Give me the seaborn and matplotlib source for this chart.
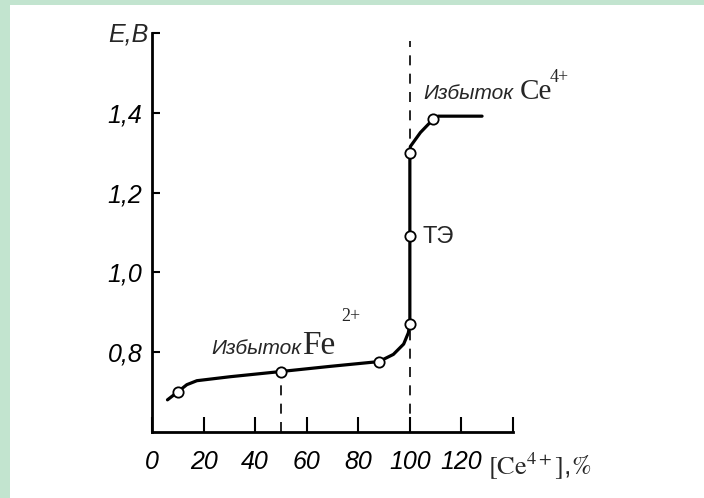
import matplotlib
matplotlib.use("Agg")
import matplotlib.pyplot as plt
from matplotlib.patches import Rectangle
import seaborn as sns
import pandas as pd

# titration curve Fe2+ by Ce4+
curve_x = [6, 10, 13.5, 17.4, 30.3, 48.4, 69.1, 88, 93.6, 97.6, 99.4, 100, 100, 100.2, 104.1, 109, 111, 128]
curve_y = [0.68, 0.70, 0.718, 0.728, 0.738, 0.75, 0.764, 0.776, 0.794, 0.82, 0.848, 0.87, 1.30, 1.316, 1.351, 1.384, 1.392, 1.392]

point_x = [10, 50, 88, 100, 100, 100, 109]
point_y = [0.70, 0.75, 0.776, 0.87, 1.09, 1.30, 1.385]

x_ticks = [0, 20, 40, 60, 80, 100, 120, 140]
x_tick_labels = ["0", "20", "40", "60", "80", "100", "120", ""]
y_ticks = [0.8, 1.0, 1.2, 1.4, 1.6]
y_tick_labels = ["0,8", "1,0", "1,2", "1,4", ""]

half_x, half_y = 50, 0.75
eq_x = 100

sns.set_theme(style="ticks")
plt.rcParams['font.family'] = ['Liberation Sans', 'DejaVu Sans']
plt.rcParams['mathtext.fontset'] = 'stix'

fig = plt.figure(figsize=(7.04, 4.98), dpi=100, facecolor="#c2e4cf")
fig.patches.append(Rectangle((10 / 704, 0), 1, 493 / 498, transform=fig.transFigure,
                             facecolor="white", edgecolor="none", zorder=-5))
ax = fig.add_axes([152 / 704, 66.3 / 498, 361 / 704, 398.4 / 498])
ax.set_facecolor("white")

curve = pd.DataFrame({"x": curve_x, "y": curve_y})
points = pd.DataFrame({"x": point_x, "y": point_y})

# dashed guide lines
ax.plot([half_x, half_x], [0.6, half_y], color="black", lw=1.2, ls=(0, (6, 5)), zorder=1)
ax.plot([eq_x, eq_x], [0.6, 1.58], color="black", lw=1.2, ls=(0, (6, 5)), zorder=1)

sns.lineplot(data=curve, x="x", y="y", sort=False, estimator=None, color="black", lw=2.3, ax=ax, zorder=2)
sns.scatterplot(data=points, x="x", y="y", marker="o", s=55, facecolor="white",
                edgecolor="black", linewidth=1.3, ax=ax, zorder=3)

ax.set_xlim(0, 140)
ax.set_ylim(0.6, 1.6)
ax.set_xticks(x_ticks)
ax.set_xticklabels(x_tick_labels, fontsize=18, style="italic")
ax.set_yticks(y_ticks)
ax.set_yticklabels(y_tick_labels, fontsize=18, style="italic")
ax.tick_params(axis="x", direction="in", length=11, width=1.5, pad=13, colors="black")
ax.tick_params(axis="y", direction="in", length=6, width=1.5, pad=7, colors="black")
sns.despine(ax=ax)
for s in ["left", "bottom"]:
    ax.spines[s].set_linewidth(2)
    ax.spines[s].set_color("black")

ax.set_xlabel("")
ax.set_ylabel("")
ax.text(-0.066, 0.996, "E,В", transform=ax.transAxes, fontsize=18, style="italic",
        ha="center", va="center")
ax.text(0.93, -0.084, r"$\mathrm{[Ce^{4+}]}$,$\mathit{\%}$", transform=ax.transAxes, fontsize=19,
        ha="left", va="center")

# annotations
ax.text(23, 0.795, "Избыток", fontsize=15, style="italic", ha="left", va="baseline")
ax.text(58.3, 0.795, "Fe", fontsize=24, family="Liberation Serif", ha="left", va="baseline")
ax.text(73.2, 0.89, "2+", fontsize=13, family="Liberation Serif", ha="left", va="center")
ax.text(105.2, 1.435, "Избыток", fontsize=15, style="italic", ha="left", va="baseline")
ax.text(142.5, 1.435, "Ce", fontsize=21, family="Liberation Serif", ha="left", va="baseline",
        clip_on=False)
ax.text(154.2, 1.49, "4+", fontsize=13, family="Liberation Serif", ha="left", va="center",
        clip_on=False)
ax.text(105, 1.088, "ТЭ", fontsize=17, ha="left", va="center")

fig.savefig("out.png", dpi=100, facecolor=fig.get_facecolor())
